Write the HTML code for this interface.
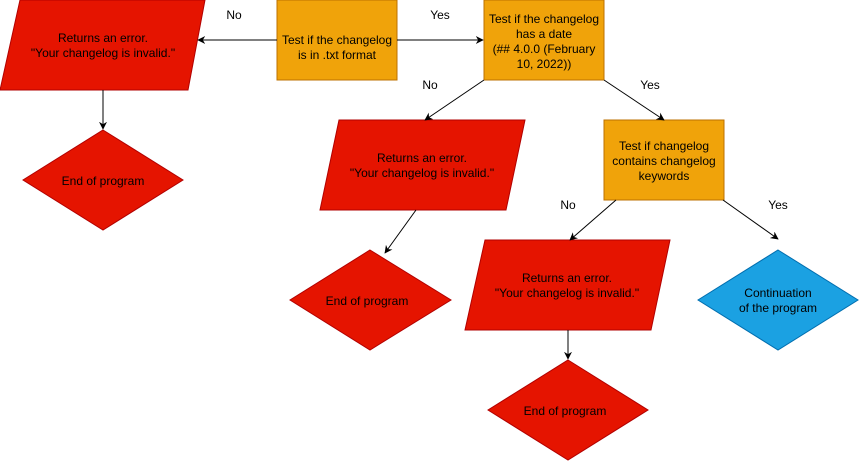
<!DOCTYPE html>
<html><head><style>
html,body{margin:0;padding:0;background:#fff;}
svg{display:block;font-family:"Liberation Sans",Arial,sans-serif;}
</style></head><body>
<svg width="859" height="461" viewBox="0 0 859 461" xmlns="http://www.w3.org/2000/svg">
<defs><marker id="a" viewBox="0 0 10 10" refX="9" refY="5" markerWidth="8" markerHeight="8" orient="auto"><path d="M0,0 L10,5 L0,10 L3,5 z" fill="#000"/></marker></defs>
<g stroke="#b20000" fill="#e51400">
<polygon points="20,0 205,0 188,90 0,90"/>
<polygon points="339,120 525,120 506,210 320,210"/>
<polygon points="485,240 670,240 651,330 465,330"/>
<polygon points="103,130 183,180 103,230 23,180"/>
<polygon points="370,250 451,300 370,350 290,300"/>
<polygon points="568,360 648,410 568,460 488,410"/>
</g>
<g stroke="#bd7000" fill="#f0a30a">
<rect x="277" y="0" width="120" height="80"/>
<rect x="484" y="0" width="120" height="80"/>
<rect x="604" y="120" width="120" height="80"/>
</g>
<polygon points="778,250 858,300 778,350 698,300" fill="#1ba1e2" stroke="#006eaf"/>
<g stroke="#000" stroke-width="1" marker-end="url(#a)">
<line x1="277" y1="40" x2="198" y2="40"/>
<line x1="397" y1="40" x2="483" y2="40"/>
<line x1="103" y1="90" x2="103" y2="129"/>
<line x1="484" y1="80" x2="425" y2="120"/>
<line x1="604" y1="80" x2="664" y2="120"/>
<line x1="416" y1="210" x2="385" y2="253"/>
<line x1="616" y1="200" x2="570" y2="240"/>
<line x1="723" y1="200" x2="778" y2="239"/>
<line x1="568" y1="330" x2="568" y2="359"/>
</g>
<g font-size="12" text-anchor="middle" fill="#000">
<text x="234" y="19">No</text>
<text x="440" y="19">Yes</text>
<text x="430" y="89">No</text>
<text x="650" y="89">Yes</text>
<text x="568" y="209">No</text>
<text x="778" y="209">Yes</text>
<text x="103" y="42">Returns an error.</text>
<text x="103" y="57">"Your changelog is invalid."</text>
<text x="422" y="162">Returns an error.</text>
<text x="422" y="177">"Your changelog is invalid."</text>
<text x="567" y="282">Returns an error.</text>
<text x="567" y="297">"Your changelog is invalid."</text>
<text x="103" y="185">End of program</text>
<text x="367" y="305">End of program</text>
<text x="565" y="415">End of program</text>
<text x="337" y="44">Test if the changelog</text>
<text x="337" y="59">is in .txt format</text>
<text x="544" y="23">Test if the changelog</text>
<text x="544" y="38">has a date</text>
<text x="544" y="53">(## 4.0.0 (February</text>
<text x="544" y="68">10, 2022))</text>
<text x="664" y="150">Test if changelog</text>
<text x="664" y="165">contains changelog</text>
<text x="664" y="180">keywords</text>
<text x="778" y="297">Continuation</text>
<text x="778" y="312">of the program</text>
</g>
</svg>
</body></html>
